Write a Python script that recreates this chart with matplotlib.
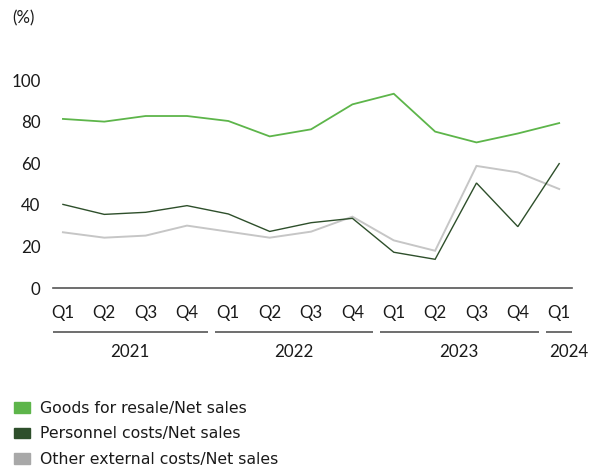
import matplotlib
matplotlib.use("Agg")
import matplotlib.pyplot as plt
from matplotlib.patches import Patch
import numpy as np

plt.rcParams['font.family'] = ['Lato', 'DejaVu Sans']

quarters = ['Q1', 'Q2', 'Q3', 'Q4', 'Q1', 'Q2', 'Q3', 'Q4', 'Q1', 'Q2', 'Q3', 'Q4', 'Q1']
years = ['2021'] * 4 + ['2022'] * 4 + ['2023'] * 4 + ['2024']

goods = [81.3, 80.0, 82.7, 82.7, 80.3, 72.9, 76.3, 88.3, 93.4, 75.2, 70.0, 74.3, 79.3]
personnel = [40.2, 35.4, 36.4, 39.6, 35.6, 27.2, 31.4, 33.5, 17.2, 13.8, 50.5, 29.5, 59.8]
other = [26.8, 24.2, 25.2, 30.0, 27.1, 24.2, 27.1, 34.3, 22.9, 17.9, 58.7, 55.6, 47.6]

labels = ['Goods for resale/Net sales', 'Personnel costs/Net sales', 'Other external costs/Net sales']
green = '#5db54a'
dark = '#2e4f2b'
grey_line = '#c6c6c6'
grey_patch = '#a8a8a8'

fig = plt.figure(figsize=(6.03, 4.68), dpi=100)
ax = fig.add_axes([0.0879, 0.3846, 0.8607, 0.4444])

x = np.arange(len(quarters))
ax.plot(x, other, color=grey_line, lw=1.4, solid_joinstyle='miter')
ax.plot(x, goods, color=green, lw=1.3, solid_joinstyle='miter')
ax.plot(x, personnel, color=dark, lw=1.0, solid_joinstyle='miter')

ax.set_xlim(-0.24, len(quarters) - 1 + 0.31)
ax.set_ylim(0, 100)
ax.set_yticks([0, 20, 40, 60, 80, 100])
ax.tick_params(axis='y', length=0, pad=9, labelsize=12.2, colors='#1a1a1a')
ax.set_xticks([])
for s in ['top', 'right', 'left']:
    ax.spines[s].set_visible(False)
ax.spines['bottom'].set_color('#555555')
ax.spines['bottom'].set_linewidth(1.2)

tr = ax.get_xaxis_transform()
for i, q in enumerate(quarters):
    ax.text(i, -0.12, q, transform=tr, ha='center', va='center',
            fontsize=12.2, color='#1a1a1a', clip_on=False)

# year groups with separator lines
xmin, xmax = ax.get_xlim()
gap = 0.17
uniq = list(dict.fromkeys(years))
for k, yr in enumerate(uniq):
    idx = [i for i, v in enumerate(years) if v == yr]
    start = max(idx[0] - 0.5 + (gap if k > 0 else 0), xmin)
    end = min(idx[-1] + 0.5, xmax)
    ax.plot([start, end], [-0.2115, -0.2115], transform=tr, color='#555555',
            lw=1.2, clip_on=False, solid_capstyle='butt')
    ax.text((start + end) / 2 if len(idx) > 1 else end - 0.07, -0.3077, yr,
            transform=tr, ha='center', va='center', fontsize=12.2,
            color='#1a1a1a', clip_on=False)

fig.text(0.02, 0.961, '(%)', ha='left', va='center', fontsize=12.2, color='#1a1a1a')

handles = [Patch(color=green), Patch(color=dark), Patch(color=grey_patch)]
leg = fig.legend(handles, labels, loc='upper left', bbox_to_anchor=(0.023, 0.143),
                 frameon=False, handlelength=1.05, handleheight=0.65,
                 handletextpad=0.6, labelspacing=0.66, borderaxespad=0, borderpad=0,
                 prop={'family': 'DejaVu Sans', 'size': 11.3})
for t in leg.get_texts():
    t.set_color('#1a1a1a')

fig.savefig('out.png', dpi=100)
